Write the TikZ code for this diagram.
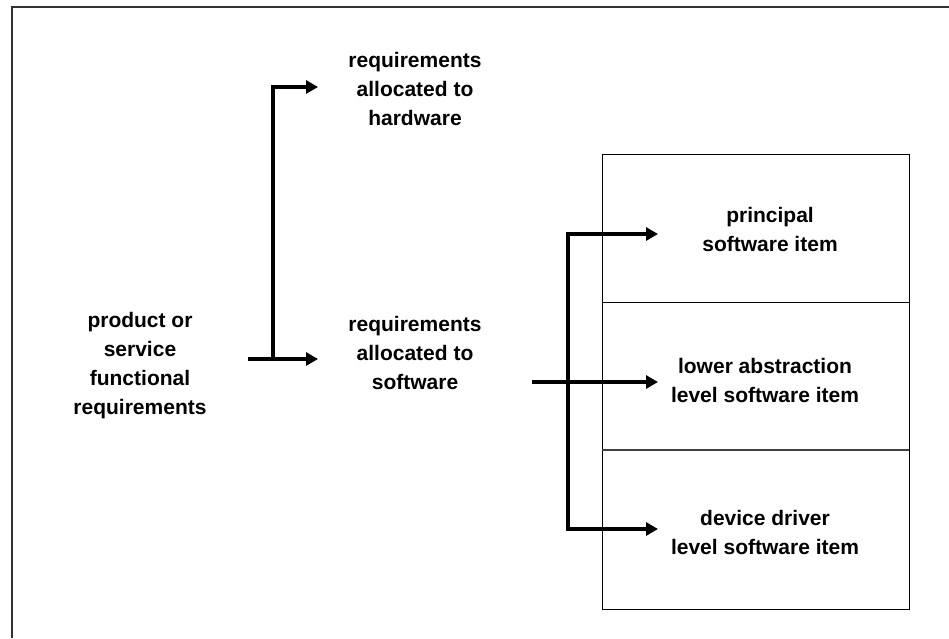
\documentclass[tikz,border=0pt]{standalone}
\usepackage{fontspec}
\setmainfont{Liberation Sans}
\usetikzlibrary{arrows.meta}
\tikzset{
  label text/.style={font=\bfseries\fontsize{21}{29}\selectfont, align=center, inner sep=0pt},
  flow/.style={line width=4pt, -{Triangle[length=12pt,width=13pt]}},
  frame/.style={line width=1.5pt, draw=black!80},
  cell/.style={line width=1pt, draw=black}
}
\begin{document}
\begin{tikzpicture}[x=1pt,y=-1pt]
  \useasboundingbox (0,0) rectangle (949,638);
  % page frame (only top and left edges fall inside the page)
  \draw[frame] (12,638) -- (12,7) -- (949,7);

  % software item column
  \draw[cell] (602,154) rectangle (909,609);
  \draw[cell] (602,302) -- (909,302);
  \draw[cell, line width=1.4pt, draw=black!75] (602,450) -- (909,450);

  % texts
  \node[label text] (fr) at (140,366) {product or\\service\\functional\\requirements};
  \node[label text] (hw) at (415,89) {requirements\\allocated to\\hardware};
  \node[label text] (sw) at (415,353) {requirements\\allocated to\\software};
  \node[label text] (p1) at (770,229) {principal\\software item};
  \node[label text] (p2) at (765,380) {lower abstraction\\level software item};
  \node[label text] (p3) at (765,532) {device driver\\level software item};

  % connector end points
  \coordinate (frout) at (248,359);
  \coordinate (fork1) at (273,359);
  \coordinate (hwin) at (318,87);
  \coordinate (swin) at (318,359);
  \coordinate (swout) at (532,382);
  \coordinate (fork2) at (568,382);
  \coordinate (p1in) at (658,234);
  \coordinate (p2in) at (658,382);
  \coordinate (p3in) at (658,529);

  % allocation to hardware and software
  \draw[flow] (frout) -- (swin);
  \draw[flow] (fork1) |- (hwin);
  % allocation to software items
  \draw[flow] (swout) -- (p2in);
  \draw[flow] (fork2) |- (p1in);
  \draw[flow] (fork2) |- (p3in);
\end{tikzpicture}
\end{document}
